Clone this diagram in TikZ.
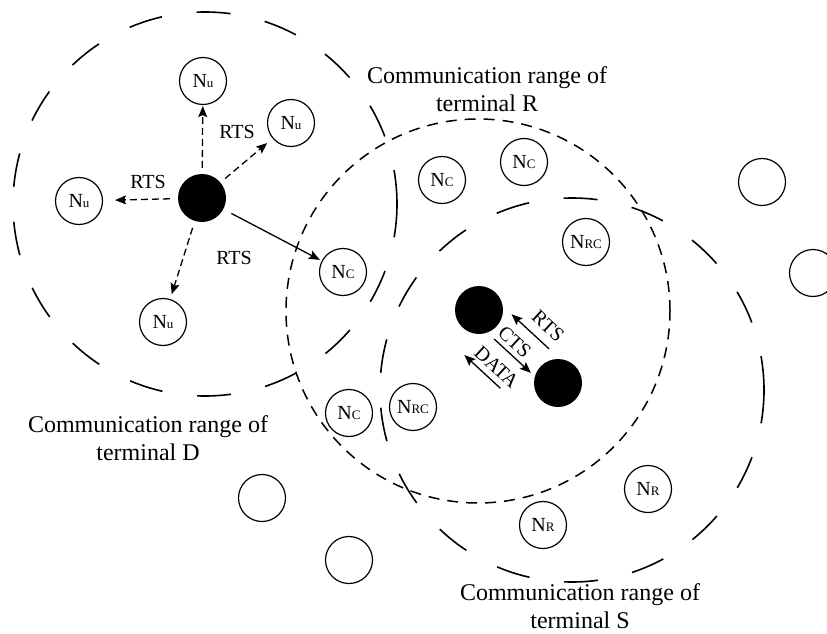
\documentclass[tikz,border=0pt]{standalone}
\usepackage{fontspec}
\setmainfont{Liberation Serif}
\usetikzlibrary{arrows.meta}
% label of a station: a large N followed by a small tag
\newcommand\stn[1]{N{\fontsize{13}{13}\selectfont #1}}
\begin{document}
\begin{tikzpicture}[x=1pt,y=-1pt,
  station/.style={circle,draw,line width=1.2pt,minimum size=47pt,inner sep=0pt,
    font=\fontsize{20}{20}\selectfont},
  terminal/.style={circle,fill=black,minimum size=48pt,inner sep=0pt},
  longrange/.style={line width=1.6pt,dash pattern=on 34pt off 35pt},
  shortrange/.style={line width=1.5pt,dash pattern=on 11pt off 8pt},
  msg/.style={line width=1.3pt,-{Stealth[length=11pt,width=9pt,inset=2pt]}},
  probe/.style={msg,dash pattern=on 7pt off 4pt},
  caption/.style={font=\fontsize{24}{28}\selectfont,anchor=base,inner sep=0pt},
  tag/.style={font=\fontsize{20}{20}\selectfont,inner sep=0pt}
]
\useasboundingbox (0,0) rectangle (827,634);

% communication ranges
\coordinate (rangeD) at (205,204);
\coordinate (rangeR) at (478,311);
\coordinate (rangeS) at (572,390);
\draw[longrange] (rangeD) circle[radius=192pt];
\draw[shortrange] (rangeR) circle[radius=192pt];
\draw[longrange] (rangeS) circle[radius=192pt];

% terminals
\node[terminal] (D) at (202,198) {};
\node[terminal] (R) at (479,310) {};
\node[terminal] (S) at (558,383) {};

% stations
\node[station] (Nu1) at (203,81) {\stn{u}};
\node[station] (Nu2) at (291,123) {\stn{u}};
\node[station] (Nu3) at (79,201) {\stn{u}};
\node[station] (Nu4) at (163,322) {\stn{u}};
\node[station] (Nc1) at (343,272) {\stn{C}};
\node[station] (Nc2) at (442,180) {\stn{C}};
\node[station] (Nc3) at (524,162) {\stn{C}};
\node[station] (Nc4) at (349,413) {\stn{C}};
\node[station] (Nrc1) at (586,242) {\stn{RC}};
\node[station] (Nrc2) at (413,407) {\stn{RC}};
\node[station] (Nr1) at (648,489) {\stn{R}};
\node[station] (Nr2) at (543,525) {\stn{R}};
\node[station] (far1) at (762,182) {};
\node[station] (far2) at (813,273) {};
\node[station] (far3) at (262,498) {};
\node[station] (far4) at (349,560) {};

% RTS sent by terminal D
\draw[probe,shorten <=6pt,shorten >=1pt] (D) -- (Nu1);
\draw[probe,shorten <=6pt,shorten >=7pt] (D) -- (Nu2);
\draw[probe,shorten <=8pt,shorten >=12pt] (D) -- (Nu3);
\draw[probe,shorten <=7pt,shorten >=5pt] (D) -- (Nu4);
\draw[msg,shorten <=9pt,shorten >=2pt] (D) -- (Nc1);
\node[tag] (rts1) at (237,132) {RTS};
\node[tag] (rts2) at (148,182) {RTS};
\node[tag] (rts3) at (234,258) {RTS};

% handshake between terminals R and S
\begin{scope}[shift={(518.5,346.5)},rotate=-42.7]
  \coordinate (rtsFrom) at (24,-19);
  \coordinate (rtsTo) at (-27,-19);
  \coordinate (ctsFrom) at (-23,11);
  \coordinate (ctsTo) at (27,11);
  \coordinate (dataFrom) at (15,43);
  \coordinate (dataTo) at (-34,43);
  \draw[msg] (rtsFrom) -- (rtsTo);
  \draw[msg] (ctsFrom) -- (ctsTo);
  \draw[msg] (dataFrom) -- (dataTo);
  \node[tag,rotate=-42.7] (rtsRS) at (8,-35) {RTS};
  \node[tag,rotate=-42.7] (ctsRS) at (-6,-1) {CTS};
  \node[tag,rotate=-42.7] (dataRS) at (-2,30) {DATA};
\end{scope}

% range captions
\node[caption] (capR1) at (487,83) {Communication range of};
\node[caption] (capR2) at (487,111) {terminal R};
\node[caption] (capD1) at (148,432) {Communication range of};
\node[caption] (capD2) at (148,460) {terminal D};
\node[caption] (capS1) at (580,600) {Communication range of};
\node[caption] (capS2) at (580,628) {terminal S};
\end{tikzpicture}
\end{document}
